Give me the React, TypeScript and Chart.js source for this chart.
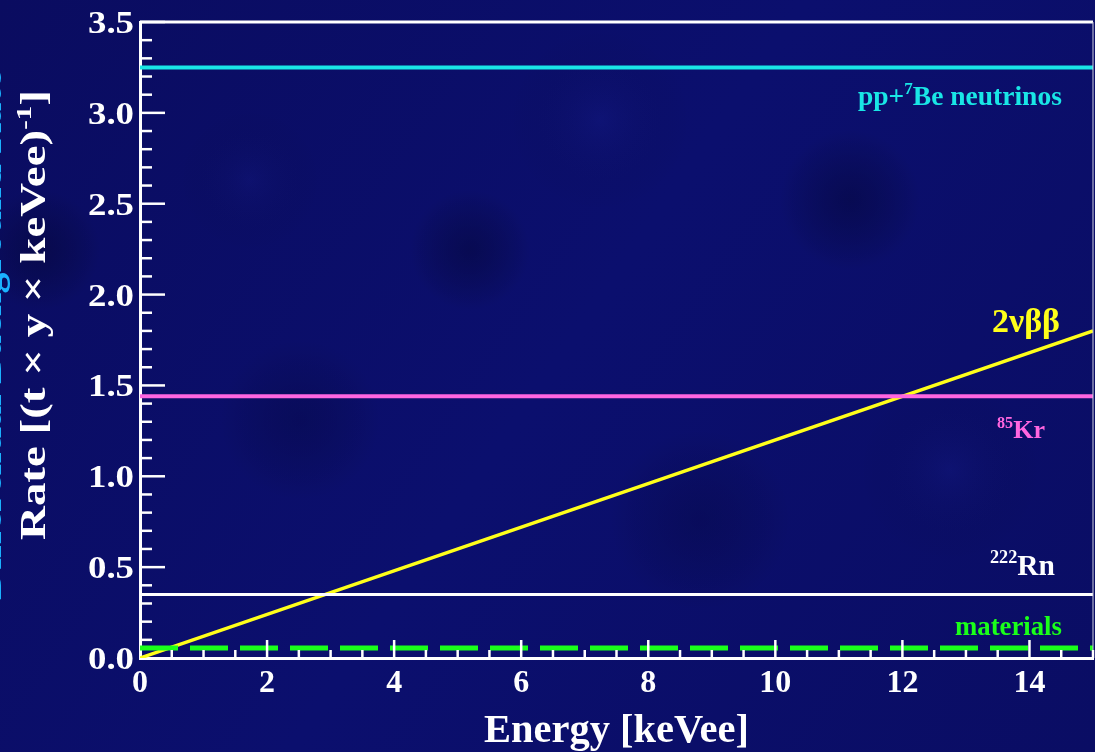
import React, { useEffect, useRef } from 'react';
import { Chart, registerables } from 'chart.js';

Chart.register(...registerables);

// ---- data ----
const energyRange = [0, 15];
const ppBeRate = [3.25, 3.25];
const kr85Rate = [1.44, 1.44];
const rn222Rate = [0.35, 0.35];
const materialsRate = [0.055, 0.055];
const doubleBetaRate = [0.0, 1.8];
const xTickValues = [0, 2, 4, 6, 8, 10, 12, 14];
const yTickValues = [0, 0.5, 1.0, 1.5, 2.0, 2.5, 3.0, 3.5];
const yTickLabels = ['0.0', '0.5', '1.0', '1.5', '2.0', '2.5', '3.0', '3.5'];

const SERIF = "'Liberation Serif', 'DejaVu Serif', serif";

type Run = { t: string; sup?: boolean };

function runsWidth(ctx: CanvasRenderingContext2D, runs: Run[], s: number, weight: string) {
  let w = 0;
  for (const r of runs) {
    ctx.font = `${weight} ${r.sup ? s * 0.62 : s}px ${SERIF}`;
    w += ctx.measureText(r.t).width;
  }
  return w;
}

// draws runs left-aligned at (x, y); if targetWidth is set, the text is
// stretched horizontally (stretch=true) or scaled uniformly to fit it
function drawRuns(
  ctx: CanvasRenderingContext2D,
  runs: Run[],
  x: number,
  y: number,
  size: number,
  color: string,
  targetWidth?: number,
  stretch = false,
  weight = 'bold'
) {
  let s = size;
  let sx = 1;
  if (targetWidth) {
    const w = runsWidth(ctx, runs, size, weight);
    if (stretch) sx = targetWidth / w;
    else s = (size * targetWidth) / w;
  }
  ctx.save();
  ctx.translate(x, y);
  ctx.scale(sx, 1);
  ctx.fillStyle = color;
  ctx.textAlign = 'left';
  ctx.textBaseline = 'alphabetic';
  let cx = 0;
  for (const r of runs) {
    ctx.font = `${weight} ${r.sup ? s * 0.62 : s}px ${SERIF}`;
    ctx.fillText(r.t, cx, r.sup ? -s * 0.4 : 0);
    cx += ctx.measureText(r.t).width;
  }
  ctx.restore();
}

const decorPlugin = {
  id: 'decor',
  beforeDraw(chart: any) {
    const { ctx, width, height } = chart;
    ctx.save();
    const g = ctx.createLinearGradient(0, 0, width, height);
    g.addColorStop(0, '#0a0c60');
    g.addColorStop(0.5, '#0b0f6e');
    g.addColorStop(1, '#0a0d64');
    ctx.fillStyle = g;
    ctx.fillRect(0, 0, width, height);
    const blobs = [
      [470, 250, 60, 'rgba(0,0,25,0.3)'],
      [850, 200, 70, 'rgba(0,0,25,0.3)'],
      [300, 420, 80, 'rgba(0,0,30,0.2)'],
      [700, 520, 90, 'rgba(0,0,30,0.2)'],
      [40, 250, 60, 'rgba(0,0,25,0.3)'],
      [600, 120, 90, 'rgba(40,50,180,0.12)'],
      [950, 470, 90, 'rgba(40,50,180,0.12)'],
      [250, 180, 70, 'rgba(40,50,180,0.1)'],
    ] as const;
    for (const [bx, by, br, c] of blobs) {
      const rg = ctx.createRadialGradient(bx, by, 0, bx, by, br);
      rg.addColorStop(0, c);
      rg.addColorStop(1, 'rgba(0,0,0,0)');
      ctx.fillStyle = rg;
      ctx.fillRect(bx - br, by - br, br * 2, br * 2);
    }
    ctx.restore();
  },
  afterDatasetsDraw(chart: any) {
    const { ctx, chartArea } = chart;
    const xs = chart.scales.x;
    const ys = chart.scales.y;
    const { left, right, top, bottom } = chartArea;
    ctx.save();
    // frame: top and right
    ctx.strokeStyle = '#ffffff';
    ctx.lineWidth = 3;
    ctx.beginPath();
    ctx.moveTo(left, top);
    ctx.lineTo(right, top);
    ctx.stroke();
    ctx.strokeStyle = 'rgba(200,200,220,0.7)';
    ctx.lineWidth = 1.5;
    ctx.beginPath();
    ctx.moveTo(right, top);
    ctx.lineTo(right, bottom);
    ctx.stroke();
    // inward ticks
    ctx.strokeStyle = '#ffffff';
    ctx.lineWidth = 2.5;
    for (let i = 1; i <= 35; i++) {
      const py = ys.getPixelForValue(i / 10);
      const len = i % 5 === 0 ? 25 : 12;
      ctx.beginPath();
      ctx.moveTo(left, py);
      ctx.lineTo(left + len, py);
      ctx.stroke();
    }
    for (let i = 1; i <= 30; i++) {
      const px = xs.getPixelForValue(i / 2);
      const len = i % 4 === 0 ? 18 : 8;
      ctx.beginPath();
      ctx.moveTo(px, bottom);
      ctx.lineTo(px, bottom - len);
      ctx.stroke();
    }
    // tick labels
    ctx.fillStyle = '#ffffff';
    ctx.textBaseline = 'alphabetic';
    ctx.font = `bold 32px ${SERIF}`;
    ctx.textAlign = 'center';
    for (const v of xTickValues) {
      ctx.fillText(String(v), xs.getPixelForValue(v), bottom + 34);
    }
    yTickValues.forEach((v, i) => {
      const py = ys.getPixelForValue(v);
      ctx.save();
      ctx.translate(left - 6, py + 11);
      ctx.scale(1.15, 1);
      ctx.textAlign = 'right';
      ctx.fillText(yTickLabels[i], 0, 0);
      ctx.restore();
    });
    // series labels
    drawRuns(ctx, [{ t: 'pp+' }, { t: '7', sup: true }, { t: 'Be neutrinos' }], 858, 105, 24, '#19e6e6', 204);
    drawRuns(ctx, [{ t: '2νββ' }], 992, 332, 24, '#ffff1a', 68);
    drawRuns(ctx, [{ t: '85', sup: true }, { t: 'Kr' }], 997, 438, 28, '#ff66e0', 48);
    drawRuns(ctx, [{ t: '222', sup: true }, { t: 'Rn' }], 990, 575, 28, '#ffffff', 65);
    drawRuns(ctx, [{ t: 'materials' }], 955, 635, 24, '#1aff1a', 107);
    // axis titles
    drawRuns(ctx, [{ t: 'Energy [keVee]' }], 484, 742, 34, '#ffffff', 265);
    ctx.save();
    ctx.translate(45, 540);
    ctx.rotate(-Math.PI / 2);
    drawRuns(
      ctx,
      [{ t: 'Rate [(t × y × keVee)' }, { t: '-1', sup: true }, { t: ']' }],
      0,
      0,
      35,
      '#ffffff',
      450,
      true,
      'bold'
    );
    ctx.restore();
    // clipped cyan label at the far left edge
    ctx.save();
    ctx.translate(1, 600);
    ctx.rotate(-Math.PI / 2);
    drawRuns(ctx, [{ t: 'Differential Background Rate' }], 0, 0, 34, '#1ab2ff', 530);
    ctx.restore();
    ctx.restore();
  },
};

function makeData(values: number[]) {
  return energyRange.map((x, i) => ({ x, y: values[i] }));
}

export default function App() {
  const ref = useRef<HTMLCanvasElement | null>(null);
  useEffect(() => {
    if (!ref.current) return;
    const chart = new Chart(ref.current, {
      type: 'scatter',
      data: {
        datasets: [
          {
            label: 'pp+7Be neutrinos',
            data: makeData(ppBeRate),
            showLine: true,
            borderColor: '#19e6e6',
            borderWidth: 4,
            pointRadius: 0,
          },
          {
            label: '85Kr',
            data: makeData(kr85Rate),
            showLine: true,
            borderColor: '#ff66e0',
            borderWidth: 4,
            pointRadius: 0,
          },
          {
            label: '222Rn',
            data: makeData(rn222Rate),
            showLine: true,
            borderColor: '#ffffff',
            borderWidth: 3,
            pointRadius: 0,
          },
          {
            label: 'materials',
            data: makeData(materialsRate),
            showLine: true,
            borderColor: '#1aff1a',
            borderWidth: 5,
            borderDash: [38, 12],
            pointRadius: 0,
          },
          {
            label: '2νββ',
            data: makeData(doubleBetaRate),
            showLine: true,
            borderColor: '#ffff1a',
            borderWidth: 3.5,
            pointRadius: 0,
          },
        ],
      },
      options: {
        animation: false,
        responsive: false,
        maintainAspectRatio: false,
        layout: { padding: { top: 22, right: 2, left: 0, bottom: 0 } },
        plugins: {
          legend: { display: false },
          tooltip: { enabled: false },
        },
        scales: {
          x: {
            type: 'linear',
            min: 0,
            max: 15,
            grid: { display: false, drawTicks: false },
            border: { display: true, color: '#ffffff', width: 3 },
            ticks: { display: false },
            afterFit: (s: any) => {
              s.height = 94;
            },
          },
          y: {
            type: 'linear',
            min: 0,
            max: 3.5,
            grid: { display: false, drawTicks: false },
            border: { display: true, color: '#ffffff', width: 3 },
            ticks: { display: false },
            afterFit: (s: any) => {
              s.width = 140;
            },
          },
        },
      },
      plugins: [decorPlugin],
    });
    return () => chart.destroy();
  }, []);
  return (
    <div style={{ position: 'fixed', left: 0, top: 0, width: 1095, height: 752 }}>
      <canvas ref={ref} width={1095} height={752} style={{ display: 'block' }} />
    </div>
  );
}
